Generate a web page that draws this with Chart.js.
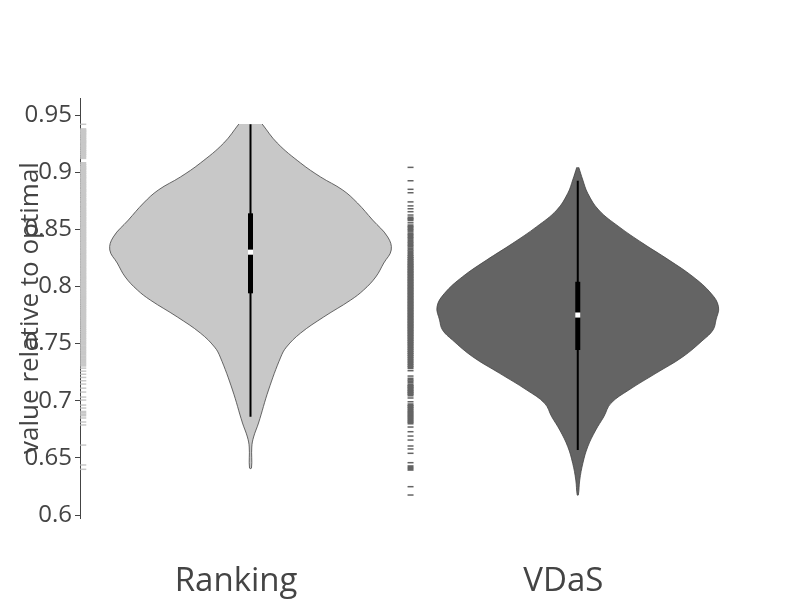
<!DOCTYPE html>
<html>
<head>
<meta charset="utf-8">
<title>value relative to optimal</title>
<script src="https://cdn.jsdelivr.net/npm/chart.js@4.4.1/dist/chart.umd.min.js"></script>
<style>
  html, body { margin: 0; padding: 0; background: #fff; }
  #wrap { width: 800px; height: 600px; }
</style>
</head>
<body>
<div id="wrap"><canvas id="chart" width="800" height="600"></canvas></div>
<script>
const categories = ["Ranking", "VDaS"];
const yTicks = [0.6, 0.65, 0.7, 0.75, 0.8, 0.85, 0.9, 0.95];

// violin outlines: value levels and relative half-width (1 = widest)
const rankingLevels = [0.9421, 0.9255, 0.908, 0.8958, 0.8844, 0.873, 0.8581, 0.8433, 0.8319, 0.8205, 0.8083,
  0.7969, 0.7881, 0.7733, 0.7592, 0.7469, 0.7382, 0.7094, 0.6805, 0.6683, 0.6595, 0.6411];
const rankingDensity = [0.083, 0.19, 0.356, 0.498, 0.655, 0.76, 0.868, 0.975, 1.0, 0.947, 0.89,
  0.804, 0.712, 0.52, 0.356, 0.255, 0.215, 0.128, 0.057, 0.022, 0.009, 0.007];

const vdasLevels = [0.9042, 0.8931, 0.8815, 0.8669, 0.8523, 0.8377, 0.8231, 0.8085, 0.794, 0.7823, 0.7706,
  0.7619, 0.7531, 0.7385, 0.724, 0.7094, 0.6977, 0.686, 0.6744, 0.6598, 0.6452, 0.6306, 0.6175];
const vdasDensity = [0.007, 0.036, 0.071, 0.149, 0.292, 0.463, 0.648, 0.819, 0.947, 1.0, 0.982,
  0.961, 0.89, 0.747, 0.555, 0.363, 0.235, 0.185, 0.128, 0.071, 0.036, 0.014, 0.004];

// [lower whisker, q1, median, q3, upper whisker]
const rankingBox = [0.686, 0.794, 0.830, 0.864, 0.9419];
const vdasBox = [0.6569, 0.7444, 0.775, 0.8041, 0.8925];

// individual observations (rug marks)
const rankingPoints = [
  0.9419, 0.9372, 0.9361, 0.9347, 0.9333, 0.9319, 0.9301, 0.9288, 0.9270, 0.9262, 0.9244, 0.9229, 0.9215,
  0.9196, 0.9183, 0.9164, 0.9148, 0.9127, 0.9076,
  0.9058, 0.9041, 0.9030, 0.9012, 0.8996, 0.8981, 0.8962, 0.8950, 0.8933, 0.8915, 0.8902, 0.8884, 0.8871,
  0.8853, 0.8840, 0.8826, 0.8808, 0.8795, 0.8779, 0.8761, 0.8749, 0.8730, 0.8718, 0.8703, 0.8686, 0.8672,
  0.8657, 0.8641, 0.8629, 0.8612, 0.8597, 0.8585, 0.8568, 0.8553, 0.8540, 0.8522, 0.8510, 0.8494, 0.8479,
  0.8465, 0.8451, 0.8436, 0.8421, 0.8409, 0.8392, 0.8378, 0.8365, 0.8349, 0.8336, 0.8320, 0.8306, 0.8293,
  0.8277, 0.8263, 0.8250, 0.8234, 0.8221, 0.8206, 0.8192, 0.8178, 0.8163, 0.8149, 0.8136, 0.8120, 0.8107,
  0.8091, 0.8078, 0.8064, 0.8048, 0.8035, 0.8019, 0.8006, 0.7990, 0.7977, 0.7961, 0.7947, 0.7932, 0.7918,
  0.7902, 0.7889, 0.7872, 0.7858, 0.7841, 0.7826, 0.7809, 0.7793, 0.7777, 0.7759, 0.7742, 0.7726, 0.7707,
  0.7690, 0.7671, 0.7653, 0.7634, 0.7615, 0.7596, 0.7577, 0.7556, 0.7537, 0.7515, 0.7496, 0.7473, 0.7452,
  0.7430, 0.7407, 0.7384, 0.7360, 0.7335, 0.7311, 0.7285, 0.7259, 0.7232, 0.7204, 0.7175, 0.7146,
  0.7110, 0.7076, 0.7032, 0.7006, 0.6962, 0.6936, 0.6900, 0.6875, 0.6849, 0.6814, 0.6788,
  0.6612, 0.6438, 0.6400
];
const vdasPoints = [
  0.9042, 0.8925, 0.8850, 0.8820, 0.8740, 0.8705, 0.8680, 0.8654,
  0.8625, 0.8600, 0.8583, 0.8557, 0.8531, 0.8512, 0.8490, 0.8462, 0.8441, 0.8420, 0.8394, 0.8372, 0.8351,
  0.8326, 0.8304, 0.8281, 0.8262, 0.8245,
  0.8229, 0.8213, 0.8198, 0.8184, 0.8169, 0.8156, 0.8140, 0.8127, 0.8113, 0.8098, 0.8085, 0.8070, 0.8056,
  0.8043, 0.8028, 0.8015, 0.8001, 0.7987, 0.7974, 0.7960, 0.7946, 0.7933, 0.7919, 0.7906, 0.7892, 0.7879,
  0.7865, 0.7852, 0.7838, 0.7825, 0.7811, 0.7798, 0.7784, 0.7771, 0.7757, 0.7744, 0.7730, 0.7717, 0.7703,
  0.7690, 0.7676, 0.7662, 0.7649, 0.7635, 0.7621, 0.7607, 0.7593, 0.7578, 0.7564, 0.7549, 0.7534, 0.7519,
  0.7503, 0.7488, 0.7471, 0.7455, 0.7438, 0.7421, 0.7404, 0.7386, 0.7367, 0.7348, 0.7329, 0.7309, 0.7289,
  0.7263, 0.7216, 0.7190, 0.7167, 0.7140, 0.7125, 0.7111, 0.7095, 0.7080, 0.7065, 0.7050, 0.7024, 0.6991,
  0.6965, 0.6948, 0.6930, 0.6910, 0.6893, 0.6875, 0.6858, 0.6840, 0.6822, 0.6805, 0.6770, 0.6729, 0.6691,
  0.6656, 0.6604, 0.6578, 0.6540, 0.6458, 0.6423, 0.6400, 0.6248, 0.6175
];

const fillColors = ["#c8c8c8", "#646464"];
const rugColors = ["#c8c8c8", "#646464"];
const textColor = "#444";
const fontFamily = '"Open Sans", "Liberation Sans", sans-serif';

// placement in category units
const violinOffset = 0.044;
const violinHalfWidth = 0.43;
const rugOffset = -0.467;

function violinOutline(levels, density, center) {
  const right = levels.map((y, i) => ({ x: center + density[i] * violinHalfWidth, y }));
  const left = levels.map((y, i) => ({ x: center - density[i] * violinHalfWidth, y })).reverse();
  return right.concat(left);
}

// rug marks in crowded stretches get thicker so they merge into a band
function rugWidth(points) {
  return (ctx) => {
    const k = ctx.dataIndex;
    const up = k > 0 ? Math.abs(points[k - 1] - points[k]) : 1;
    const down = k < points.length - 1 ? Math.abs(points[k + 1] - points[k]) : 1;
    return Math.min(up, down) < 0.0025 ? 3 : 1.5;
  };
}

function buildDatasets() {
  const series = [
    { levels: rankingLevels, density: rankingDensity, box: rankingBox, points: rankingPoints },
    { levels: vdasLevels, density: vdasDensity, box: vdasBox, points: vdasPoints },
  ];
  const datasets = [];

  series.forEach((s, i) => {
    const c = i + violinOffset;

    datasets.push({
      label: categories[i],
      data: violinOutline(s.levels, s.density, c),
      showLine: true,
      fill: "shape",
      backgroundColor: fillColors[i],
      borderColor: "rgba(68,68,68,0.8)",
      borderWidth: 1,
      tension: 0.4,
      pointRadius: 0,
      order: 4,
    });

    datasets.push({
      data: [{ x: c, y: s.box[0] }, { x: c, y: s.box[4] }],
      showLine: true,
      borderColor: "#000",
      borderWidth: 2,
      pointRadius: 0,
      order: 3,
    });

    datasets.push({
      data: [{ x: c, y: s.box[1] }, { x: c, y: s.box[3] }],
      showLine: true,
      borderColor: "#000",
      borderWidth: 5,
      borderCapStyle: "butt",
      pointRadius: 0,
      order: 2,
    });

    datasets.push({
      data: [{ x: c, y: s.box[2] }],
      pointStyle: "rect",
      pointRadius: 3.6,
      pointBackgroundColor: "#fff",
      pointBorderWidth: 0,
      order: 1,
    });

    datasets.push({
      data: s.points.map((v) => ({ x: i + rugOffset, y: v })),
      pointStyle: "line",
      pointRadius: 3,
      pointBorderColor: rugColors[i],
      pointBorderWidth: rugWidth(s.points),
      order: 5,
    });
  });

  return datasets.map((d) => Object.assign({ clip: false }, d));
}

new Chart(document.getElementById("chart"), {
  type: "scatter",
  data: { datasets: buildDatasets() },
  options: {
    responsive: false,
    animation: false,
    events: [],
    layout: { padding: { top: 98, right: 73, left: 0, bottom: 0 } },
    plugins: {
      legend: { display: false },
      tooltip: { enabled: false },
    },
    scales: {
      x: {
        type: "linear",
        min: -0.477,
        max: 1.5,
        grid: { display: false, drawTicks: false },
        border: { display: false },
        afterBuildTicks: (axis) => {
          axis.ticks = categories.map((c, i) => ({ value: i }));
        },
        afterFit: (scale) => {
          scale.height = 82;
        },
        ticks: {
          autoSkip: false,
          maxRotation: 0,
          padding: 44,
          color: textColor,
          font: { family: fontFamily, size: 33 },
          callback: (value) => categories[value],
        },
      },
      y: {
        type: "linear",
        min: 0.5974,
        max: 0.9649,
        afterBuildTicks: (axis) => {
          axis.ticks = yTicks.map((v) => ({ value: v }));
        },
        afterFit: (scale) => {
          scale.width = 80;
        },
        grid: { drawOnChartArea: false, drawTicks: true, tickLength: 5, color: textColor },
        border: { display: true, color: textColor, width: 1 },
        ticks: {
          padding: 3,
          color: textColor,
          font: { family: fontFamily, size: 24 },
          callback: (value) => String(value),
        },
        title: {
          display: true,
          text: "value relative to optimal",
          color: textColor,
          font: { family: fontFamily, size: 26 },
          padding: { top: 15, bottom: 0 },
        },
      },
    },
  },
});
</script>
</body>
</html>
